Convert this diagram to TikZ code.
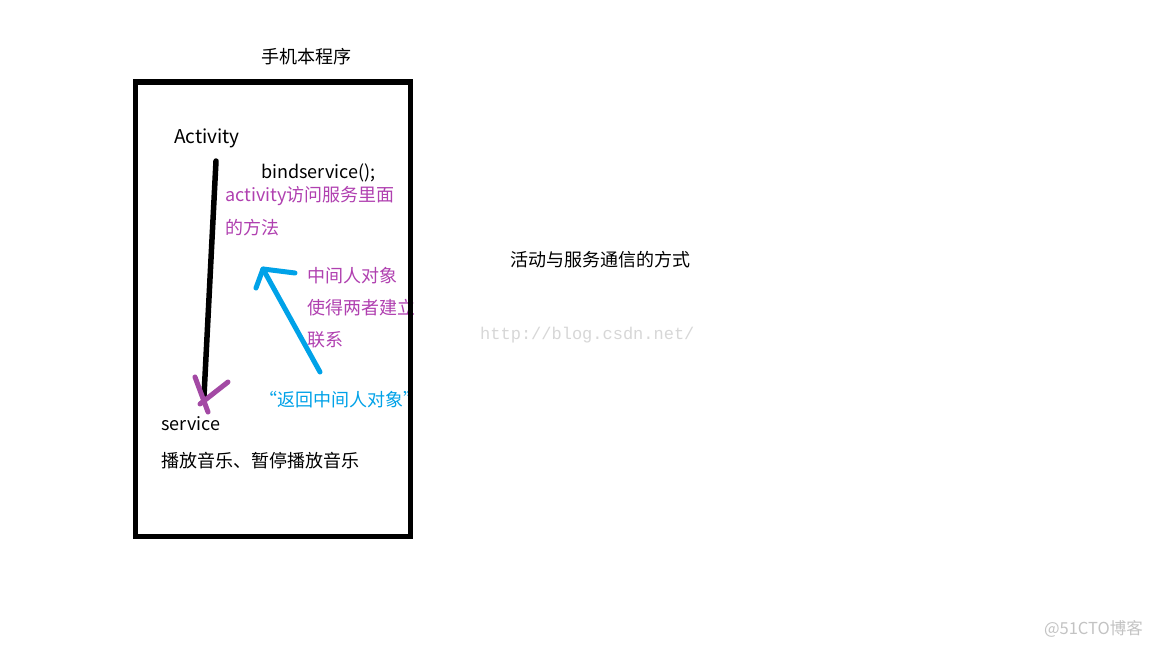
\documentclass[tikz,border=0pt]{standalone}
\usepackage{fontspec}
\setmainfont{Noto Sans CJK SC}
\newfontfamily\wmfont{Liberation Mono}
\definecolor{paintpurple}{RGB}{163,73,164}
\definecolor{textpurple}{RGB}{176,64,176}
\definecolor{paintcyan}{RGB}{0,162,232}
\definecolor{wmgray}{RGB}{215,215,215}
\definecolor{wmgray2}{RGB}{195,195,195}
\begin{document}
\begin{tikzpicture}[x=1pt,y=-1pt,
  lbl/.style={anchor=west,inner sep=0pt,font=\fontsize{18}{21}\selectfont},
  stroke/.style={line width=5pt,line cap=round}]
\useasboundingbox (0,0) rectangle (1152,648);
\fill[white] (0,0) rectangle (1152,648);
% texts
\node[lbl] (title) at (261,57) {手机本程序};
\node[lbl,font=\fontsize{19}{21}\selectfont] (act) at (174,138) {Activity};
\node[lbl] (bind) at (261,173) {bindservice();};
\node[lbl,text=textpurple] (acc1) at (225,196) {activity访问服务里面};
\node[lbl,text=textpurple] (acc2) at (225,228) {的方法};
\node[lbl,text=textpurple] (mid1) at (307,276) {中间人对象};
\node[lbl,text=textpurple] (mid2) at (307,308) {使得两者建立};
\node[lbl,text=textpurple] (mid3) at (307,340) {联系};
\node[lbl,text=paintcyan] (ret) at (259,400) {“返回中间人对象”};
\node[lbl] (svc) at (161,424) {service};
\node[lbl] (play) at (161,461) {播放音乐、暂停播放音乐};
\node[lbl] (way) at (510,260) {活动与服务通信的方式};
\node[anchor=west,inner sep=0pt,text=wmgray,font=\wmfont\fontsize{17}{20}\selectfont] (wm1) at (480,335.5) {http://blog.csdn.net/};
\node[anchor=east,inner sep=0pt,text=wmgray2,font=\fontsize{16.5}{19}\selectfont] (wm2) at (1143,629) {@51CTO博客};
% box
\draw[line width=5.5pt] (135.5,82) rectangle (410.5,536.5);
% black line with purple head
\coordinate (bstart) at (216,161);
\coordinate (bend) at (204,396);
\draw[stroke,line width=5.5pt] (bstart) -- (bend);
\coordinate (ph1) at (195,377);
\coordinate (ph2) at (208,412);
\coordinate (ph3) at (228,382);
\coordinate (ph4) at (200,404);
\draw[stroke,paintpurple] (ph1) -- (ph2);
\draw[stroke,paintpurple] (ph3) -- (ph4);
% cyan arrow
\coordinate (cstart) at (320,372);
\coordinate (ctip) at (263,269);
\coordinate (cl) at (256,288);
\coordinate (cr) at (295,273);
\draw[stroke,paintcyan] (cstart) -- (ctip);
\draw[stroke,paintcyan,line join=round] (cl) -- (ctip) -- (cr);
\end{tikzpicture}
\end{document}
